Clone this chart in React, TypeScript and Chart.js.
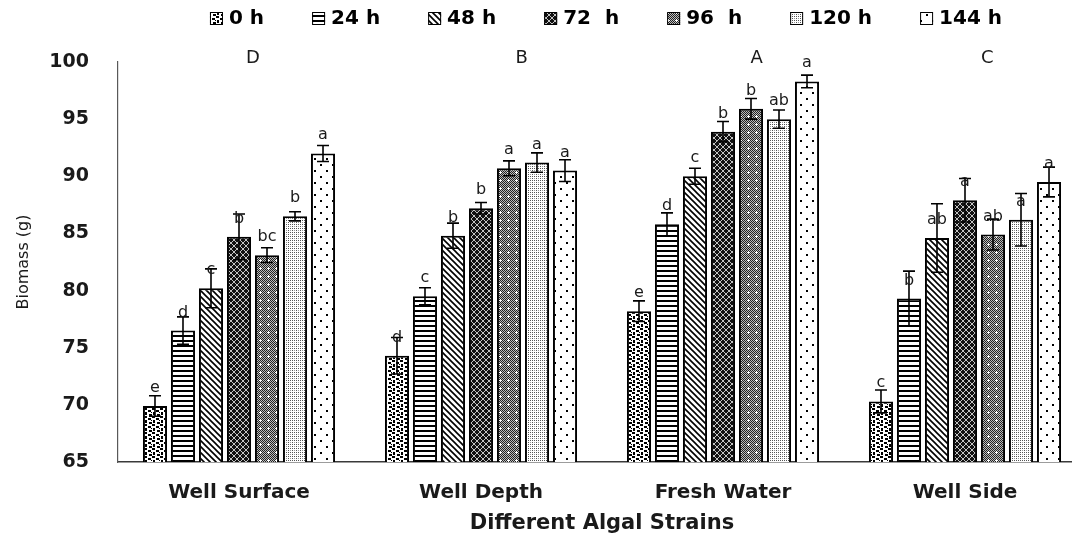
import React, { useEffect, useRef } from 'react';
import { Chart, registerables } from 'chart.js';

Chart.register(...registerables);

// ---------- data ----------
const strains = ['Well Surface', 'Well Depth', 'Fresh Water', 'Well Side'];
const timeLabels = ['0 h', '24 h', '48 h', '72  h', '96  h', '120 h', '144 h'];

const h0 = [69.9, 74.3, 78.2, 70.3];
const h24 = [76.5, 79.5, 85.8, 79.3];
const h48 = [80.2, 84.8, 90.0, 84.6];
const h72 = [84.7, 87.2, 93.9, 87.9];
const h96 = [83.1, 90.7, 95.9, 84.9];
const h120 = [86.5, 91.2, 95.0, 86.2];
const h144 = [92.0, 90.5, 98.3, 89.5];

const e0 = [0.9, 1.6, 0.9, 1.0];
const e24 = [1.2, 0.75, 1.0, 2.4];
const e48 = [1.7, 1.1, 0.7, 3.0];
const e72 = [2.0, 0.5, 0.9, 1.9];
const e96 = [0.65, 0.65, 0.9, 1.35];
const e120 = [0.4, 0.85, 0.8, 2.3];
const e144 = [0.7, 0.95, 0.55, 1.3];

const s0 = ['e', 'd', 'e', 'c'];
const s24 = ['d', 'c', 'd', 'b'];
const s48 = ['c', 'b', 'c', 'ab'];
const s72 = ['b', 'b', 'b', 'a'];
const s96 = ['bc', 'a', 'b', 'ab'];
const s120 = ['b', 'a', 'ab', 'a'];
const s144 = ['a', 'a', 'a', 'a'];

const strainRank = ['D', 'B', 'A', 'C'];
const rankShift = [0.5, 1.45, 1.2, 0.8]; // in bar slots from group centre

const yMin = 65;
const yMax = 100;
const yStep = 5;

const seriesValues = [h0, h24, h48, h72, h96, h120, h144];
const seriesErrors = [e0, e24, e48, e72, e96, e120, e144];
const seriesLetters = [s0, s24, s48, s72, s96, s120, s144];

// ---------- patterns ----------
function makePattern(kind: number): CanvasPattern | string {
  const c = document.createElement('canvas');
  const g = c.getContext('2d')!;
  const set = (w: number, h: number) => { c.width = w; c.height = h; };
  if (kind === 0) {
    set(8, 8);
    g.fillStyle = '#fff'; g.fillRect(0, 0, 8, 8);
    g.fillStyle = '#000';
    g.fillRect(0, 0, 3, 2); g.fillRect(4, 2, 3, 2); g.fillRect(1, 4, 2, 3);
    g.fillRect(5, 6, 3, 2); g.fillRect(7, 4, 1, 1);
  } else if (kind === 1) {
    set(6, 5);
    g.fillStyle = '#fff'; g.fillRect(0, 0, 6, 5);
    g.fillStyle = '#000'; g.fillRect(0, 0, 6, 2);
  } else if (kind === 2) {
    set(6, 6);
    g.fillStyle = '#fff'; g.fillRect(0, 0, 6, 6);
    g.strokeStyle = '#000'; g.lineWidth = 1.6;
    g.beginPath();
    for (let k = -6; k <= 6; k += 6) { g.moveTo(k - 1, -1); g.lineTo(k + 7, 7); }
    g.stroke();
  } else if (kind === 3) {
    set(6, 6);
    g.fillStyle = '#111'; g.fillRect(0, 0, 6, 6);
    g.strokeStyle = '#d8d8d8'; g.lineWidth = 0.9;
    g.beginPath();
    for (let k = -6; k <= 6; k += 6) { g.moveTo(k, 0); g.lineTo(k + 6, 6); g.moveTo(k + 6, 0); g.lineTo(k, 6); }
    g.stroke();
  } else if (kind === 4) {
    set(8, 8);
    for (let y = 0; y < 8; y++) for (let x = 0; x < 8; x++) {
      g.fillStyle = (x + y) % 2 === 0 ? '#222' : '#bbb';
      g.fillRect(x, y, 1, 1);
    }
    g.fillStyle = '#fff';
    g.fillRect(3, 4, 3, 1); g.fillRect(4, 3, 1, 3);
  } else if (kind === 5) {
    set(4, 4);
    g.fillStyle = '#fff'; g.fillRect(0, 0, 4, 4);
    g.fillStyle = '#555';
    g.fillRect(0, 0, 1, 1); g.fillRect(2, 0, 1, 1); g.fillRect(0, 2, 1, 1);
    g.fillStyle = '#999';
    g.fillRect(2, 2, 1, 1);
  } else {
    set(12, 12);
    g.fillStyle = '#fff'; g.fillRect(0, 0, 12, 12);
    g.fillStyle = '#000';
    g.fillRect(2, 2, 2, 2); g.fillRect(8, 8, 2, 2);
  }
  const p = g.createPattern(c, 'repeat');
  return p || '#888';
}

const FONT = '"DejaVu Sans", Verdana, sans-serif';

// ---------- annotations plugin ----------
const annotate = {
  id: 'annotate',
  afterDatasetsDraw(chart: any) {
    const ctx: CanvasRenderingContext2D = chart.ctx;
    const y = chart.scales.y;
    const xs = chart.scales.x;
    ctx.save();
    // error bars + letters
    chart.data.datasets.forEach((ds: any, di: number) => {
      const meta = chart.getDatasetMeta(di);
      meta.data.forEach((bar: any, i: number) => {
        const v = seriesValues[di][i];
        const e = seriesErrors[di][i];
        const yt = y.getPixelForValue(v + e);
        const yb = y.getPixelForValue(v - e);
        ctx.strokeStyle = '#000';
        ctx.lineWidth = 1.6;
        ctx.beginPath();
        ctx.moveTo(bar.x, yt); ctx.lineTo(bar.x, yb);
        ctx.moveTo(bar.x - 6, yt); ctx.lineTo(bar.x + 6, yt);
        ctx.moveTo(bar.x - 6, yb); ctx.lineTo(bar.x + 6, yb);
        ctx.stroke();
        ctx.fillStyle = '#1a1a1a';
        ctx.font = '16px ' + FONT;
        ctx.textAlign = 'center';
        ctx.textBaseline = 'alphabetic';
        ctx.fillText(seriesLetters[di][i], bar.x, y.getPixelForValue(v) - 14);
      });
    });
    // strain rank letters
    const m0 = chart.getDatasetMeta(0);
    const m1 = chart.getDatasetMeta(1);
    strainRank.forEach((t, i) => {
      const pitch = m1.data[i].x - m0.data[i].x;
      const cx = xs.getPixelForValue(i) + rankShift[i] * pitch;
      ctx.fillStyle = '#1a1a1a';
      ctx.font = '18px ' + FONT;
      ctx.textAlign = 'center';
      ctx.textBaseline = 'alphabetic';
      ctx.fillText(t, cx, y.getPixelForValue(yMax) + 1);
    });
    ctx.restore();
  },
  afterDraw(chart: any) {
    // legend
    const ctx: CanvasRenderingContext2D = chart.ctx;
    const area = chart.chartArea;
    ctx.save();
    ctx.font = 'bold 20px ' + FONT;
    const box = 13, gap = 6, itemGap = 48;
    const dsets = chart.data.datasets;
    const widths = dsets.map((d: any) => box + gap + ctx.measureText(d.label).width);
    const total = widths.reduce((a: number, b: number) => a + b, 0) + itemGap * (dsets.length - 1);
    let x = (area.left + area.right) / 2 + 4 - total / 2;
    const base = 24;
    dsets.forEach((d: any, i: number) => {
      ctx.fillStyle = d.backgroundColor;
      ctx.fillRect(x, base - 12, box, box);
      ctx.strokeStyle = '#000';
      ctx.lineWidth = 1;
      ctx.strokeRect(x + 0.5, base - 11.5, box - 1, box - 1);
      ctx.fillStyle = '#000';
      ctx.textAlign = 'left';
      ctx.textBaseline = 'alphabetic';
      ctx.fillText(d.label, x + box + gap, base);
      x += widths[i] + itemGap;
    });
    ctx.restore();
  },
};

export default function App() {
  const ref = useRef<HTMLCanvasElement | null>(null);
  useEffect(() => {
    if (!ref.current) return;
    const datasets = seriesValues.map((vals, i) => ({
      label: timeLabels[i],
      data: vals,
      backgroundColor: makePattern(i) as any,
      borderColor: '#000',
      borderWidth: 2,
      categoryPercentage: 0.81,
      barPercentage: 0.86,
    }));
    const chart = new Chart(ref.current, {
      type: 'bar',
      data: { labels: strains, datasets },
      options: {
        animation: false,
        responsive: false,
        devicePixelRatio: 1,
        layout: { padding: { top: 62, right: 14, left: 0, bottom: 0 } },
        plugins: {
          legend: { display: false },
          tooltip: { enabled: false },
        },
        scales: {
          x: {
            grid: { display: false, drawTicks: false },
            border: { display: true, color: '#3a3a3a', width: 1.5 },
            ticks: { color: '#1a1a1a', padding: 19, font: { family: FONT, size: 20, weight: 'bold' } },
            title: {
              display: true,
              text: 'Different Algal Strains',
              color: '#1a1a1a',
              font: { family: FONT, size: 21, weight: 'bold' },
              padding: { top: 0, bottom: 8 },
            },
            afterFit: (s: any) => { s.height = 82; },
          },
          y: {
            min: yMin,
            max: yMax,
            grid: { display: false, drawTicks: false },
            border: { display: true, color: '#595959', width: 1.2 },
            ticks: { stepSize: yStep, color: '#1a1a1a', padding: 29, font: { family: FONT, size: 19, weight: 'bold' } },
            title: {
              display: true,
              text: 'Biomass (g)',
              color: '#1a1a1a',
              font: { family: FONT, size: 16 },
              padding: { top: 14, bottom: 0 },
            },
            afterFit: (s: any) => { s.width = 118; },
          },
        },
      },
      plugins: [annotate],
    } as any);
    return () => chart.destroy();
  }, []);
  return (
    <div style={{ position: 'fixed', left: 0, top: 0, width: 1072, height: 544, overflow: 'hidden', background: '#fff' }}>
      <canvas ref={ref} width={1100} height={544} style={{ display: 'block' }} />
    </div>
  );
}
